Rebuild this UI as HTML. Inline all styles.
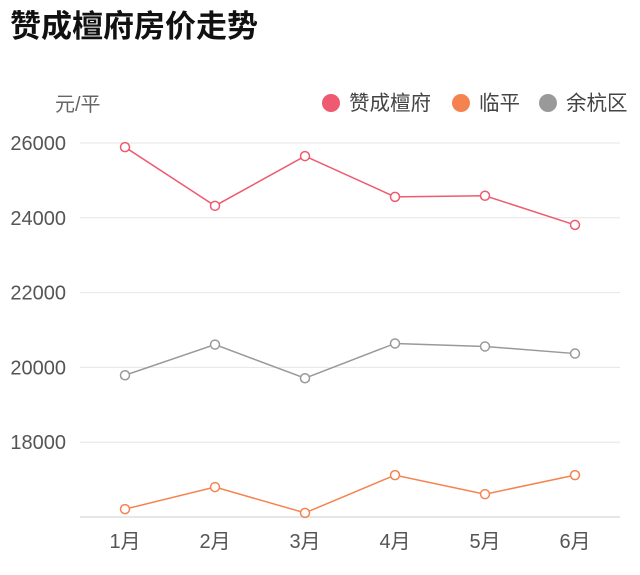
<!DOCTYPE html>
<html><head><meta charset="utf-8"><style>
body{margin:0;background:#fff;width:640px;height:570px;overflow:hidden;font-family:"Liberation Sans","Noto Sans CJK SC",sans-serif}
</style></head><body>
<svg width="640" height="570">
<text x="10" y="37" font-size="31" font-weight="bold" fill="#111" font-family="Liberation Sans, Noto Sans CJK SC, sans-serif">赞成檀府房价走势</text>
<text x="55" y="111" font-size="20" fill="#666" font-family="Liberation Sans, Noto Sans CJK SC, sans-serif">元/平</text>
<g id="legend"></g>
<g id="grid"></g><g id="series"></g>
</svg>
<script>
const categories=["1月","2月","3月","4月","5月","6月"];
const seriesNames=["赞成檀府","临平","余杭区"];
const seriesColors=["#ee5a6f","#f5834f","#999999"];
const zanCheng=[25890,24320,25650,24560,24590,23810];
const linPing=[16210,16800,16110,17120,16610,17120];
const yuHang=[19790,20610,19710,20640,20560,20370];
const yTicks=[18000,20000,22000,24000,26000];
const NS="http://www.w3.org/2000/svg";
const L=80,R=620,yMin=16000,yMax=26000,yTop=143,yBot=517;
const y=v=>yBot-(v-yMin)/(yMax-yMin)*(yBot-yTop);
const bw=(R-L)/categories.length;
const x=i=>L+bw*(i+0.5);
function mk(t,a,p){const e=document.createElementNS(NS,t);for(const k in a)e.setAttribute(k,a[k]);p.appendChild(e);return e;}
const grid=document.getElementById('grid');
yTicks.forEach(v=>{
 const l=mk('line',{x1:L,x2:R,y1:y(v),y2:y(v),stroke:'#e6e6e6','stroke-width':1},grid);
 
 
 const t=mk('text',{x:66,y:y(v)+7,'text-anchor':'end','font-size':20,fill:'#555'},grid);
 t.textContent=v;
 
 
});
const ax=mk('line',{x1:L,x2:R,y1:yBot,y2:yBot,stroke:'#ccc','stroke-width':1},grid);


categories.forEach((c,i)=>{
 const t=mk('text',{x:x(i),y:548,'text-anchor':'middle','font-size':20,fill:'#555','font-family':'Liberation Sans, Noto Sans CJK SC, sans-serif'},grid);
 t.textContent=c;
 
 
});
const sg=document.getElementById('series');
[zanCheng,linPing,yuHang].forEach((d,s)=>{
 const p=mk('polyline',{points:d.map((v,i)=>x(i)+','+y(v)).join(' '),fill:'none',stroke:seriesColors[s],'stroke-width':1.5},sg);
 
 
 d.forEach((v,i)=>{
  const c=mk('circle',{cx:x(i),cy:y(v),r:4.5,fill:'#fff',stroke:seriesColors[s],'stroke-width':1.5},sg);
  
  
 });
});
const lg=document.getElementById('legend');
const lx=[331,461,548];
seriesNames.forEach((n,i)=>{
 const c=mk('circle',{cx:lx[i],cy:103,r:9,fill:seriesColors[i]},lg);
 
 
 const t=mk('text',{x:lx[i]+18,y:110,'font-size':20.5,fill:'#444','font-family':'Liberation Sans, Noto Sans CJK SC, sans-serif'},lg);
 t.textContent=n;
 
 
});
</script>
</body></html>
